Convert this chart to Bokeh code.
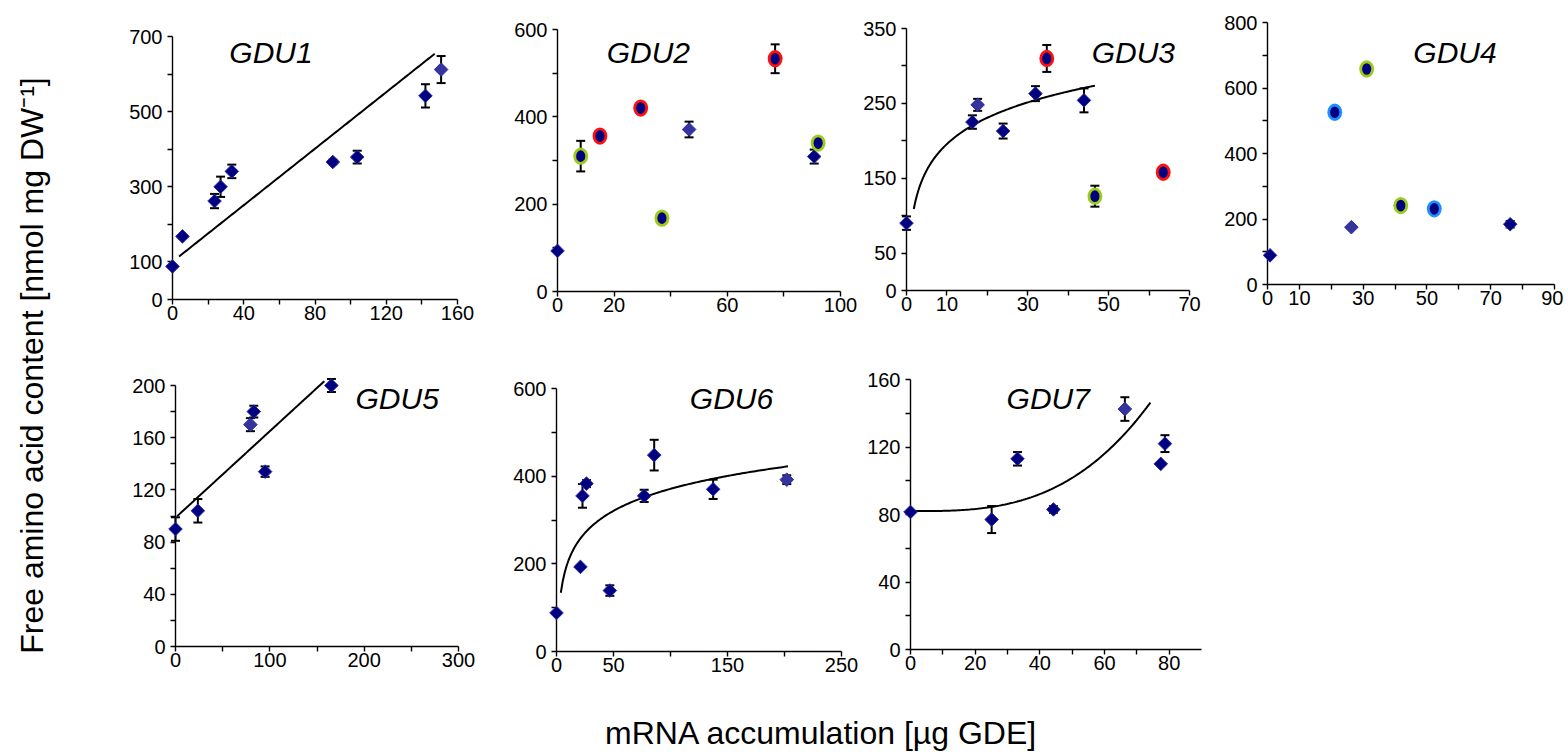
import numpy as np
from bokeh.plotting import figure
from bokeh.models import Range1d, FixedTicker, Label, Spacer
from bokeh.layouts import row, column
from bokeh.embed import file_html
from bokeh.resources import INLINE

FONT = "Liberation Sans"

# ---------------- data ----------------
gdu1_x = [0, 5.6, 23.6, 27, 33.3, 90, 103.7, 142, 150.8]
gdu1_y = [88, 168, 262, 300, 341, 366, 379, 542, 612]
gdu1_err = [0, 0, 19, 27, 18, 6, 17, 31, 36]
gdu1_mark = ["", "", "", "", "", "", "", "", ""]
gdu1_xticks = [0, 40, 80, 120, 160]
gdu1_xminor = [20, 60, 100, 140]
gdu1_yticks = [0, 100, 300, 500, 700]
gdu1_yminor = [200, 400, 600]
gdu1_fit = (3.76, 100.6)          # linear trend: slope, intercept
gdu1_fit_span = (3.7, 147.2)

gdu2_x = [0, 8.2, 15, 29.4, 36.9, 46.5, 76.9, 90.7, 92.1]
gdu2_y = [93, 310, 356, 420, 168, 371, 533, 309, 340]
gdu2_err = [0, 35, 10, 8, 0, 18, 33, 16, 0]
gdu2_mark = ["", "green", "red", "red", "green", "", "red", "", "green"]
gdu2_xticks = [0, 20, 60, 100]
gdu2_xminor = [40, 80]
gdu2_yticks = [0, 200, 400, 600]
gdu2_yminor = [100, 300, 500]

gdu3_x = [0, 16.3, 17.6, 23.9, 31.9, 34.7, 43.9, 46.6, 63.5]
gdu3_y = [90, 225, 248, 213, 263, 310, 254, 126, 158]
gdu3_err = [9, 9, 8, 10, 10, 18, 16, 14, 0]
gdu3_mark = ["", "", "", "", "", "red", "", "green", "red"]
gdu3_xticks = [0, 10, 30, 50, 70]
gdu3_xminor = [20, 40, 60]
gdu3_yticks = [0, 50, 150, 250, 350]
gdu3_yminor = [100, 200, 300]
gdu3_fit = (79.2, 50.6)           # log trend: a + b*ln(x)
gdu3_fit_span = (1.8, 46.6)

gdu4_x = [0.8, 21.1, 26.3, 31.1, 41.8, 52.3, 76.1]
gdu4_y = [89, 526, 175, 658, 241, 231, 184]
gdu4_err = [0, 12, 0, 10, 10, 12, 10]
gdu4_mark = ["", "blue", "", "green", "green", "blue", ""]
gdu4_xticks = [0, 10, 30, 50, 70, 90]
gdu4_xminor = [20, 40, 60, 80]
gdu4_yticks = [0, 200, 400, 600, 800]
gdu4_yminor = [100, 300, 500, 700]

gdu5_x = [0, 23.7, 79.4, 83, 95, 165.3]
gdu5_y = [90, 104, 170, 180, 134, 200]
gdu5_err = [9, 9, 5, 4.5, 4, 5]
gdu5_mark = ["", "", "", "", "", ""]
gdu5_xticks = [0, 100, 200, 300]
gdu5_xminor = [50, 150, 250]
gdu5_yticks = [0, 40, 80, 120, 160, 200]
gdu5_yminor = [20, 60, 100, 140, 180]
gdu5_fit = (0.663, 98.7)
gdu5_fit_span = (1.8, 157.8)

gdu6_x = [0, 21, 22.8, 26.3, 46.8, 76.9, 85.7, 137.4, 202]
gdu6_y = [88, 193, 355, 383, 139, 355, 448, 370, 392]
gdu6_err = [0, 0, 27, 8, 12, 14, 35, 22, 10]
gdu6_mark = ["", "", "", "", "", "", "", "", ""]
gdu6_xticks = [0, 50, 150, 250]
gdu6_xminor = [100, 200]
gdu6_yticks = [0, 200, 400, 600]
gdu6_yminor = [100, 300, 500]
gdu6_fit = (37.2, 72.5)           # log trend
gdu6_fit_span = (3.8, 203)

gdu7_x = [0, 25.1, 33.1, 44.2, 66.3, 77.4, 78.7]
gdu7_y = [81.5, 77, 113, 83, 142.5, 110, 122]
gdu7_err = [0, 8, 4, 2, 7, 0, 5]
gdu7_mark = ["", "", "", "", "", "", ""]
gdu7_xticks = [0, 20, 40, 60, 80]
gdu7_xminor = [10, 30, 50, 70]
gdu7_yticks = [0, 40, 80, 120, 160]
gdu7_yminor = [20, 60, 100, 140]
gdu7_fit = (82.0, 1.575e-4)       # polynomial trend: c0 + c3*x^3
gdu7_fit_span = (1.0, 74.2)

# ---------------- styling ----------------
NAVY = "#000080"
NAVY_EDGE = "#2b2ba6"
LIGHT = "#34349c"
RING = {"red": "#ff1010", "green": "#9acd1a", "blue": "#1e8fff"}
LEVEL = "overlay"
BT = 14
TITLE_SIZE = 30
SHIFT = 11      # label anchor correction (px)


def panel(name, xs, ys, es, marks, xmax, ymax, xt, xm, yt, ym,
          fw, fh, bl, br, bb, title_x, title_px, light_idx, trend=None):
    p = figure(frame_width=fw, frame_height=fh,
               min_border_left=bl, min_border_right=br,
               min_border_top=BT, min_border_bottom=bb,
               x_range=Range1d(0, xmax), y_range=Range1d(0, ymax),
               output_backend="svg", toolbar_location=None, tools="")
    p.grid.visible = False
    p.outline_line_color = None
    p.background_fill_color = None
    p.border_fill_color = None
    for ax, t, m in ((p.xaxis[0], xt, xm), (p.yaxis[0], yt, ym)):
        ax.ticker = FixedTicker(ticks=t, minor_ticks=m)
        ax.axis_line_color = "black"
        ax.axis_line_width = 1.4
        ax.major_tick_line_color = "black"
        ax.major_tick_line_width = 1.4
        ax.minor_tick_line_color = "black"
        ax.minor_tick_line_width = 1.4
        ax.major_tick_out = 5
        ax.major_tick_in = 0
        ax.minor_tick_out = 5
        ax.minor_tick_in = 0
        ax.major_label_text_font = FONT
        ax.major_label_text_font_size = "20px"
        ax.major_label_text_color = "black"
    p.xaxis.major_label_standoff = 1
    p.yaxis.major_label_standoff = 5

    # error bars
    ex = [x for x, e in zip(xs, es) if e > 0]
    lo = [y - e for y, e in zip(ys, es) if e > 0]
    hi = [y + e for y, e in zip(ys, es) if e > 0]
    if ex:
        r = p.segment(x0=ex, y0=lo, x1=ex, y1=hi, line_color="black", line_width=2)
        r.level = LEVEL
        for yy in (lo, hi):
            r = p.scatter(x=ex, y=yy, marker="dash", size=9, line_color="black", line_width=2)
            r.level = LEVEL

    # trend line
    if trend is not None:
        kind, coef, span = trend
        tx = np.linspace(span[0], span[1], 120)
        if kind == "lin":
            ty = coef[0] * tx + coef[1]
        elif kind == "log":
            ty = coef[0] + coef[1] * np.log(tx)
        else:
            ty = coef[0] + coef[1] * tx ** 3
        r = p.line(tx, ty, line_color="black", line_width=2)
        r.level = LEVEL

    # diamonds
    fills = [LIGHT if i == light_idx else NAVY for i in range(len(xs))]
    r = p.scatter(x=xs, y=ys, marker="square", angle=np.pi / 4, size=9.6,
                  fill_color=fills, line_color=NAVY_EDGE, line_width=1)
    r.level = LEVEL

    # highlighted points (rings)
    for key, col in RING.items():
        cx = [x for x, m in zip(xs, marks) if m == key]
        cy = [y for y, m in zip(ys, marks) if m == key]
        if cx:
            r = p.ellipse(x=cx, y=cy, width=12, height=14.5,
                          width_units="screen", height_units="screen",
                          fill_color=NAVY, line_color=col, line_width=2.8)
            r.level = LEVEL

    ty_data = ymax * (1 - (title_px - SHIFT) / fh)
    p.add_layout(Label(x=title_x, y=ty_data, text=name,
                       text_font=FONT, text_font_style="italic",
                       text_font_size=f"{TITLE_SIZE}px", text_color="black",
                       text_align="center", text_baseline="alphabetic"))
    return p


def cell(p, top, width):
    if top > 0:
        return column(Spacer(width=width, height=top), p)
    return column(p)


p1 = panel("GDU1", gdu1_x, gdu1_y, gdu1_err, gdu1_mark, 160, 700,
           gdu1_xticks, gdu1_xminor, gdu1_yticks, gdu1_yminor,
           285, 263, 112, 53, 41, 55.3, 26.7, 8,
           ("lin", gdu1_fit, gdu1_fit_span))
p2 = panel("GDU2", gdu2_x, gdu2_y, gdu2_err, gdu2_mark, 100, 600,
           gdu2_xticks, gdu2_xminor, gdu2_yticks, gdu2_yminor,
           283, 262, 47, 20, 49, 32.1, 33.7, 5)
p3 = panel("GDU3", gdu3_x, gdu3_y, gdu3_err, gdu3_mark, 70, 350,
           gdu3_xticks, gdu3_xminor, gdu3_yticks, gdu3_yminor,
           283, 262, 43, 14, 50, 56.1, 34.7, 2,
           ("log", gdu3_fit, gdu3_fit_span))
p4 = panel("GDU4", gdu4_x, gdu4_y, gdu4_err, gdu4_mark, 90, 800,
           gdu4_xticks, gdu4_xminor, gdu4_yticks, gdu4_yminor,
           287, 262, 64, 9, 56, 58.8, 40.7, 2)
p5 = panel("GDU5", gdu5_x, gdu5_y, gdu5_err, gdu5_mark, 300, 200,
           gdu5_xticks, gdu5_xminor, gdu5_yticks, gdu5_yminor,
           283, 261, 115, 52, 44, 235, 24.3, 2,
           ("lin", gdu5_fit, gdu5_fit_span))
p6 = panel("GDU6", gdu6_x, gdu6_y, gdu6_err, gdu6_mark, 250, 600,
           gdu6_xticks, gdu6_xminor, gdu6_yticks, gdu6_yminor,
           285, 263, 45, 20, 39, 153.5, 21.3, 8,
           ("log", gdu6_fit, gdu6_fit_span))
p7 = panel("GDU7", gdu7_x, gdu7_y, gdu7_err, gdu7_mark, 90, 160,
           gdu7_xticks, gdu7_xminor, gdu7_yticks, gdu7_yminor,
           291, 270, 49, 30, 41, 42.6, 30.3, 4,
           ("cubic", gdu7_fit, gdu7_fit_span))


def blank(w, h):
    f = figure(width=w, height=h, x_range=Range1d(0, w), y_range=Range1d(0, h),
               x_axis_location=None, y_axis_location=None, min_border=0,
               output_backend="svg", toolbar_location=None, tools="")
    f.grid.visible = False
    f.outline_line_color = None
    f.background_fill_color = None
    f.border_fill_color = None
    return f


ylab = blank(52, 744)
ylab.add_layout(Label(x=34 - SHIFT, y=387, text="Free amino acid content [nmol mg DW\u207b\u00b9]",
                      angle=np.pi / 2, text_font=FONT, text_font_size="32px",
                      text_color="black", text_align="center", text_baseline="alphabetic"))

xlab = blank(1500, 62)
xlab.add_layout(Label(x=761, y=9 + SHIFT, text="mRNA accumulation [\u00b5g GDE]",
                      text_font=FONT, text_font_size="32px", text_color="black",
                      text_align="center", text_baseline="alphabetic"))

row1 = row(cell(p1, 14, 450), cell(p2, 7, 350), cell(p3, 6, 340), cell(p4, 0, 360))
row2 = row(cell(p5, 31, 450), cell(p6, 34, 350), cell(p7, 25, 370))
grid = column(row1, row2, xlab)
layout = column(Spacer(width=1560, height=8), row(Spacer(width=8, height=744), ylab, grid))

open("out.html", "w").write(file_html(layout, INLINE))
